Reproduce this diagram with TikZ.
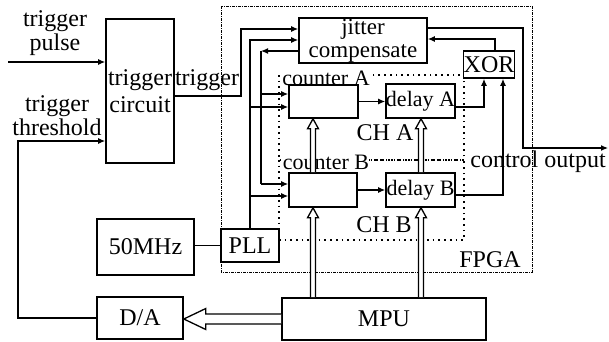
\documentclass[tikz,border=0pt]{standalone}
\usepackage{fontspec}
\setmainfont{Liberation Serif}
\usetikzlibrary{arrows.meta,calc}
\newcommand\hollowUp[2]{%
  \draw[hollow] let \p1=(#1), \p2=(#2) in
    (\x1-2.5pt,\y1) -- (\x1-2.5pt,\y2-10pt) -- (\x1-5.5pt,\y2-10pt) -- (\x1,\y2)
    -- (\x1+5.5pt,\y2-10pt) -- (\x1+2.5pt,\y2-10pt) -- (\x1+2.5pt,\y1);}
\newcommand\hollowLeft[2]{%
  \draw[hollow] let \p1=(#1), \p2=(#2) in
    (\x1,\y1+5pt) -- (\x2+22pt,\y1+5pt) -- (\x2+22pt,\y1+10.5pt) -- (\x2,\y1)
    -- (\x2+22pt,\y1-10.5pt) -- (\x2+22pt,\y1-5pt) -- (\x1,\y1-5pt);}
\begin{document}
\begin{tikzpicture}[x=1pt,y=-1pt,
  txt/.style={font=\fontsize{24}{24}\selectfont},
  box/.style={draw, line width=1.6pt, inner sep=0pt, fill=white, align=center, txt},
  wire/.style={line width=1.2pt},
  arr/.style={wire,-{Latex[length=7pt,width=6pt]}},
  lbl/.style={inner sep=0pt, align=center, txt},
  fpgabox/.style={line width=0.8pt, dash pattern=on 3pt off 1pt on 1pt off 1pt},
  chbox/.style={line width=1.7pt, dash pattern=on 1.7pt off 4pt},
  hollow/.style={line width=1.3pt, fill=white, line join=miter},
]
\useasboundingbox (0,0) rectangle (609,341);
\fill[white] (0,0) rectangle (609,341);

% dashed / dotted frames
\draw[fpgabox] (221,6) rectangle (532,272);
\draw[chbox] (279,75) rectangle (464,160);
\draw[chbox] (279,160) rectangle (464,240);

% frame labels
\node[lbl, fill=white, font=\fontsize{22}{22}\selectfont] (lca) at (326,78) {counter A};
\node[lbl, fill=white, font=\fontsize{22}{22}\selectfont] (lcb) at (326,162) {counter B};
\node[lbl] (cha) at (385,133) {CH A};
\node[lbl] (chb) at (384,225) {CH B};
\node[lbl] (fpga) at (490,260) {FPGA};

% blocks
\node[box, minimum width=68pt, minimum height=144pt, font=\fontsize{24}{27}\selectfont] (tc) at (140,91) {trigger\\circuit};
\node[box, minimum width=128pt, minimum height=45pt, font=\fontsize{23}{23}\selectfont] (jit) at (363,40.5) {jitter\\compensate};
\node[box, minimum width=50pt, minimum height=27pt] (xor) at (489,64.5) {XOR};
\node[box, minimum width=69pt, minimum height=33pt] (ca) at (323.5,101.5) {};
\node[box, minimum width=69pt, minimum height=34pt, font=\fontsize{22}{22}\selectfont] (da) at (420.5,101) {delay A};
\node[box, minimum width=68pt, minimum height=34pt] (cb) at (323,190) {};
\node[box, minimum width=69pt, minimum height=34pt, font=\fontsize{22}{22}\selectfont] (db) at (420.5,190) {delay B};
\node[box, minimum width=58pt, minimum height=33pt] (pll) at (250,245.5) {PLL};
\node[box, minimum width=97pt, minimum height=56pt] (mhz) at (145.5,247) {50MHz};
\node[box, minimum width=86pt, minimum height=42pt] (dac) at (140,318) {D/A};
\node[box, minimum width=204pt, minimum height=42pt] (mpu) at (384,319) {MPU};

% outside labels
\node[lbl] (ltp) at (55,33) {trigger\\pulse};
\node[lbl] (ltt) at (57,116) {trigger\\threshold};
\node[lbl] (ltrig) at (207,80) {trigger};
\node[lbl] (lout) at (538,162) {control output};

% coordinates
\coordinate (tin) at (8,62);
\coordinate (thr) at (18,141);
\coordinate (t1) at (241,96);
\coordinate (t2) at (241,29);
\coordinate (k1) at (250,40);
\coordinate (k2) at (250,107);
\coordinate (k3) at (250,196);
\coordinate (f1) at (261,51);
\coordinate (f2) at (261,94);
\coordinate (f3) at (261,184);
\coordinate (x1) at (484,107);
\coordinate (x2) at (503,195);
\coordinate (x3) at (495,39);
\coordinate (o1) at (523,28);
\coordinate (o2) at (523,148);
\coordinate (out) at (608,148);
\coordinate (h1) at (313,0);
\coordinate (h2) at (421,0);

% wires
\draw[arr] (tin) -- (tin -| tc.west);
\draw[arr] (dac.west) -| (thr) -- (thr -| tc.west);
\draw[arr] (tc.east |- t1) -- (t1) -- (t2) -- (t2 -| jit.west);
\draw[arr] (pll.north -| k1) -- (k1) -- (k1 -| jit.west);
\draw[arr] (k2) -- (k2 -| ca.west);
\draw[arr] (k3) -- (k3 -| cb.west);
\draw[arr] (f1 -| jit.west) -- (f1);
\draw[wire] (f1) -- (f3);
\draw[arr] (f2) -- (f2 -| ca.west);
\draw[arr] (f3) -- (f3 -| cb.west);
\draw[arr] (ca.east) -- (ca.east -| da.west);
\draw[arr] (cb.east) -- (cb.east -| db.west);
\draw[arr] (da.east |- x1) -- (x1) -- (x1 |- xor.south);
\draw[arr] (db.east |- x2) -- (x2) -- (x2 |- xor.south);
\draw[arr] (x3 |- xor.north) -- (x3) -- (x3 -| jit.east);
\draw[arr] (o1 -| jit.east) -- (o1) -- (o2) -- (out);
\draw[wire] (mhz.east |- pll.west) -- (pll.west);

% hollow bus arrows
\hollowUp{mpu.north -| h1}{cb.south -| h1}
\hollowUp{cb.north -| h1}{ca.south -| h1}
\hollowUp{mpu.north -| h2}{db.south -| h2}
\hollowUp{db.north -| h2}{da.south -| h2}
\hollowLeft{mpu.west}{dac.east}
\end{tikzpicture}
\end{document}
